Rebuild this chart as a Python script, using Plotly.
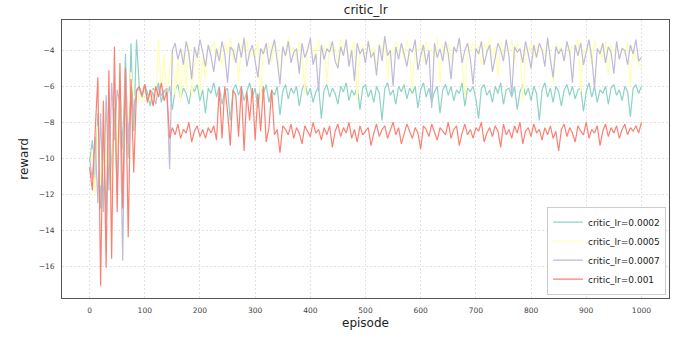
import plotly.graph_objects as go

episodes = list(range(0, 1001, 5))

lr_0002 = [
    -10.2, -9.0, -11.5, -7.5, -12.8, -8.0, -13.5, -6.5, -11.0, -7.2, -12.0, -6.0, -9.5, -4.2, -10.0, -3.6, -8.5, -3.4,
    -6.0, -6.6, -5.9, -6.4, -7.1, -6.1, -6.3, -5.8, -6.9, -6.2,
    -6.5, -6.0, -7.3, -6.2, -5.9, -6.7, -6.1, -6.4, -7.0, -6.0,
    -6.3, -5.9, -6.8, -6.2, -7.5, -6.1, -6.4, -5.8, -6.6, -6.0,
    -7.0, -6.3, -6.1, -7.9, -6.2, -5.9, -6.5, -6.0, -6.8, -6.3,
    -5.8, -6.6, -6.1, -7.2, -6.0, -6.4, -5.9, -6.9, -6.2, -6.5,
    -6.0, -7.6, -6.3, -5.9, -6.7, -6.1, -6.4, -6.0, -7.1, -6.2,
    -5.8, -6.5, -6.1, -6.9, -6.3, -6.0, -7.8, -6.2, -5.9, -6.6,
    -6.1, -6.4, -7.0, -6.0, -6.3, -5.8, -6.8, -6.2, -6.5, -6.0,
    -7.3, -6.1, -5.9, -6.6, -6.2, -6.9, -6.0, -6.4, -7.9, -6.1,
    -5.8, -6.5, -6.2, -7.0, -6.0, -6.3, -5.9, -6.7, -6.1, -6.4,
    -6.0, -7.2, -6.2, -5.8, -6.6, -6.1, -6.9, -6.3, -6.0, -7.5,
    -6.2, -5.9, -6.5, -6.0, -6.8, -6.2, -6.4, -5.8, -7.1, -6.1,
    -6.3, -6.0, -6.7, -7.8, -6.1, -5.9, -6.5, -6.2, -6.9, -6.0,
    -6.4, -5.8, -7.0, -6.2, -6.1, -6.6, -6.0, -7.3, -6.3, -5.9,
    -6.5, -6.1, -6.8, -6.0, -6.4, -7.9, -6.2, -5.8, -6.6, -6.1,
    -6.9, -6.0, -6.3, -7.1, -6.2, -5.9, -6.5, -6.0, -6.7, -6.2,
    -6.1, -7.4, -6.3, -5.8, -6.6, -6.0, -6.9, -6.2, -6.4, -6.0,
    -7.0, -6.1, -5.9, -6.5, -6.2, -6.8, -6.0, -6.3, -7.7, -6.1,
    -5.9, -6.4, -6.0,
]

lr_0005 = [
    -10.8, -9.5, -12.0, -8.2, -11.5, -7.0, -10.5, -6.8, -12.2, -5.5, -9.8, -4.8, -11.8, -6.0, -8.0, -5.2, -6.5, -6.9,
    -6.4, -6.9, -6.1, -7.0, -6.5, -6.2, -6.8, -3.4,
    -6.3, -4.2, -6.8, -5.0, -3.8, -6.5, -4.5, -6.9, -4.0, -6.2, -3.6, -6.6, -4.8, -3.9, -6.4, -4.3, -5.6, -3.7,
    -4.0, -3.5, -4.4, -3.8, -4.9, -3.6, -4.2, -3.3, -4.6, -3.9,
    -5.8, -3.7, -4.1, -3.4, -4.5, -3.8, -4.3, -3.5, -6.7, -3.9,
    -4.2, -3.6, -4.7, -3.4, -4.0, -5.5, -3.7, -4.4, -3.3, -4.1,
    -3.8, -4.6, -3.5, -4.2, -6.4, -3.6, -4.0, -3.9, -4.5, -3.4,
    -4.3, -3.7, -5.9, -3.5, -4.1, -3.8, -4.8, -3.3, -4.2, -3.6,
    -4.4, -3.9, -3.5, -6.8, -4.0, -3.7, -4.6, -3.4, -4.2, -3.8,
    -4.9, -3.6, -4.1, -3.3, -5.6, -3.9, -4.3, -3.5, -4.0, -3.7,
    -4.5, -3.4, -4.2, -6.2, -3.8, -4.0, -3.6, -4.7, -3.5, -4.1,
    -3.9, -4.4, -3.3, -5.8, -3.7, -4.2, -3.6, -4.5, -3.8, -4.0,
    -3.4, -4.6, -6.6, -3.9, -4.1, -3.5, -4.3, -3.7, -4.8, -3.6,
    -4.0, -3.3, -4.4, -3.8, -5.5, -3.5, -4.2, -3.9, -4.1, -3.4,
    -4.7, -3.6, -4.0, -6.9, -3.8, -4.3, -3.5, -4.5, -3.7, -4.1,
    -3.9, -4.4, -3.4, -4.2, -5.9, -3.6, -4.0, -3.8, -4.6, -3.5,
    -4.3, -3.7, -4.1, -3.3, -6.3, -3.9, -4.2, -3.6, -4.8, -3.4,
    -4.0, -3.8, -4.5, -3.5, -5.4, -3.7, -4.1, -3.6, -4.4, -3.9,
    -4.2, -3.5, -6.0, -3.8, -4.3, -4.6, -5.2,
]

lr_0007 = [
    -10.0, -11.2, -8.8, -12.5, -7.5, -13.0, -6.5, -11.8, -5.8, -9.0, -6.2, -7.0, -15.7, -5.0, -9.2, -6.0, -7.5, -6.3,
    -6.1, -6.6, -5.9, -6.8, -6.2, -6.4, -7.0, -6.0, -6.5, -6.3, -6.1,
    -10.6,
    -4.0, -3.6, -4.5, -3.9, -4.8, -3.5, -4.2, -5.6, -3.8, -4.4,
    -3.4, -4.1, -4.9, -3.7, -4.3, -5.2, -3.9, -4.6, -3.5, -4.2,
    -5.8, -3.8, -4.0, -4.7, -3.6, -4.4, -3.3, -4.9, -4.1, -3.7,
    -4.5, -5.5, -3.9, -4.2, -3.6, -4.8, -4.0, -3.4, -4.6, -5.9,
    -3.8, -4.3, -3.5, -4.7, -4.1, -3.9, -5.3, -3.6, -4.4, -4.0,
    -3.3, -4.8, -4.2, -6.3, -3.7, -4.5, -3.9, -4.1, -3.5, -4.6,
    -5.0, -3.8, -4.3, -3.4, -4.9, -4.0, -5.7, -3.6, -4.2, -3.9,
    -4.7, -3.5, -4.4, -4.1, -5.4, -3.7, -4.6, -3.2, -4.3, -4.0,
    -6.0, -3.8, -4.5, -3.6, -4.2, -4.9, -3.9, -4.1, -3.4, -5.1,
    -4.3, -3.7, -4.8, -4.0, -7.2, -3.6, -4.4, -3.9, -4.6, -3.5,
    -4.2, -5.6, -3.8, -4.1, -3.3, -4.7, -4.0, -3.6, -4.5, -5.9,
    -3.9, -4.2, -3.5, -4.8, -4.1, -3.7, -5.2, -4.4, -3.6, -4.0,
    -4.6, -3.4, -4.3, -6.5, -3.8, -4.1, -3.9, -4.7, -3.5, -4.2,
    -5.0, -3.7, -4.4, -3.6, -4.0, -4.9, -3.3, -4.5, -5.5, -3.8,
    -4.2, -3.9, -4.6, -3.5, -4.1, -5.8, -3.7, -4.3, -3.6, -4.8,
    -4.0, -3.4, -4.4, -6.1, -3.9, -4.2, -3.6, -4.7, -3.8, -4.1,
    -5.3, -3.5, -4.5, -3.9, -4.0, -4.8, -3.7, -4.2, -3.4, -4.6,
    -4.4,
]

lr_001 = [
    -10.5, -11.8, -8.6, -5.5, -17.1, -6.8, -16.1, -5.1, -15.6, -3.8, -13.0, -4.7, -12.8, -5.0, -14.4, -5.6, -10.8, -6.2,
    -6.0, -6.5, -5.9, -6.9, -6.2, -7.1, -6.0, -6.6, -5.8, -6.8, -6.3,
    -8.9,
    -8.3, -8.7, -8.1, -8.9, -8.4, -8.6, -8.0, -9.1, -8.5, -8.2, -8.8, -8.4, -8.9, -8.3, -8.6, -8.2, -9.0,
    -6.1, -8.9, -6.0, -7.4, -9.3, -6.2, -6.5, -8.8, -6.0, -9.6, -6.3, -7.9, -6.1, -9.0,
    -6.4, -8.5, -6.0, -9.1, -8.3, -6.2, -8.7, -8.4, -9.7, -8.2,
    -8.4, -8.7, -8.1, -8.9, -8.3, -8.6, -9.2, -8.2, -8.5, -8.8,
    -8.0, -8.6, -8.4, -9.0, -8.3, -8.7, -8.2, -9.4, -8.5, -8.1,
    -8.8, -8.3, -8.6, -8.0, -8.9, -8.4, -9.1, -8.2, -8.7, -8.5,
    -8.3, -9.3, -8.6, -8.1, -8.8, -8.4, -8.2, -8.9, -8.5, -8.0,
    -8.7, -8.3, -9.2, -8.6, -8.1, -8.5, -8.9, -8.3, -8.6, -9.5,
    -8.2, -8.4, -8.8, -8.1, -8.6, -9.0, -8.3, -8.5, -8.7, -8.0,
    -8.9, -8.4, -8.2, -9.3, -8.6, -8.1, -8.7, -8.4, -8.9, -8.3,
    -8.5, -8.0, -9.1, -8.6, -8.3, -8.8, -8.2, -8.5, -9.4, -8.1,
    -8.7, -8.4, -8.9, -8.2, -8.6, -8.0, -9.2, -8.5, -8.3, -8.8,
    -8.1, -8.6, -8.4, -9.0, -8.3, -8.7, -8.2, -8.9, -8.5, -9.6,
    -8.4, -8.1, -8.8, -8.3, -8.6, -9.1, -8.2, -8.5, -8.7, -8.0,
    -8.9, -8.4, -8.6, -8.2, -9.3, -8.5, -8.1, -8.8, -8.3, -8.6,
    -8.2, -8.9, -8.4, -8.1, -8.7, -8.3, -8.5, -8.2, -8.6, -8.0,
]

series_names = ["critic_lr=0.0002", "critic_lr=0.0005", "critic_lr=0.0007", "critic_lr=0.001"]
series_values = [lr_0002, lr_0005, lr_0007, lr_001]
colors = ["#8dd3c7", "#ffffb3", "#bebada", "#fb8072"]

x_ticks = list(range(0, 1001, 100))
y_ticks = list(range(-16, -3, 2))

fig = go.Figure()
for name, vals, c in zip(series_names, series_values, colors):
    fig.add_trace(go.Scatter(x=episodes, y=vals, mode="lines", name=name,
                             line=dict(color=c, width=1.2)))

font_family = "DejaVu Sans"
fig.update_layout(
    width=690, height=343,
    margin=dict(l=62, r=21, t=20, b=45),
    paper_bgcolor="white", plot_bgcolor="white",
    font=dict(family=font_family, color="#333"),
    title=dict(text="critic_lr", x=0.53, xanchor="center", y=0.971, yanchor="middle",
               font=dict(size=12, color="#222")),
    legend=dict(x=0.995, y=0.012, xanchor="right", yanchor="bottom",
                bgcolor="white", bordercolor="#cccccc", borderwidth=1,
                font=dict(size=9, color="#222"), tracegroupgap=0,
                itemwidth=30),
    showlegend=True,
)
axis_common = dict(
    ticks="", ticklabelstandoff=5,
    tickfont=dict(size=7.5, color="#444"),
    showgrid=True, gridcolor="#e3e3e3", griddash="2px,2px", gridwidth=1,
    showline=True, linecolor="#555", linewidth=1, mirror=True, zeroline=False,
)
fig.update_xaxes(range=[-50, 1050], tickvals=x_ticks,
                 title=dict(text="episode", font=dict(size=12, color="#222"), standoff=4),
                 **axis_common)
fig.update_yaxes(range=[-17.78, -2.31], tickvals=y_ticks,
                 title=dict(text="reward", font=dict(size=12, color="#222"), standoff=7),
                 **axis_common)

fig.write_html("out.html", config={"displayModeBar": False},
               post_script="document.body.style.margin='0';")
